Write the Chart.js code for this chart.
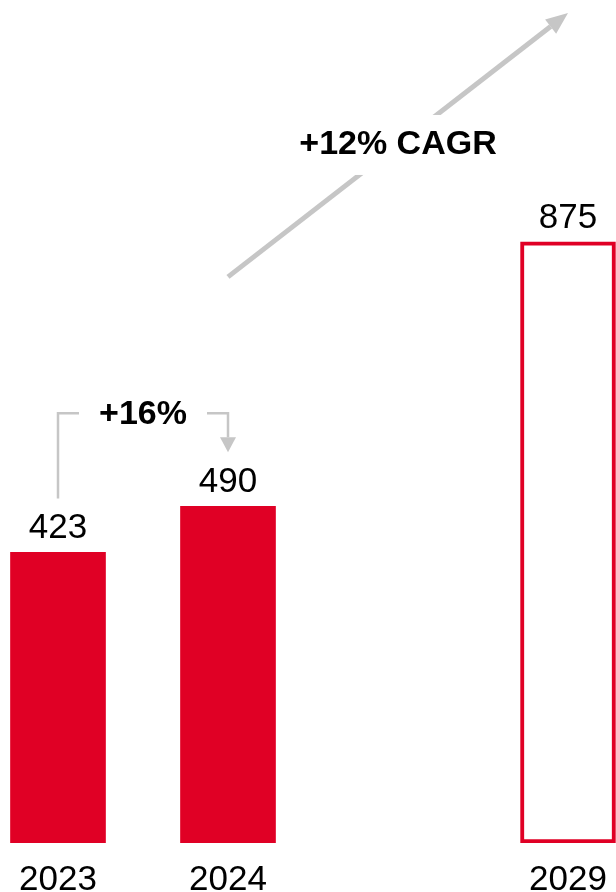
<!DOCTYPE html>
<html>
<head>
<meta charset="utf-8">
<script src="https://cdn.jsdelivr.net/npm/chart.js@4"></script>
<style>
  html, body { margin: 0; padding: 0; background: #fff; overflow: hidden; }
  #wrap { position: absolute; left: -27px; top: 0; width: 680px; height: 909px; }
</style>
</head>
<body>
<div id="wrap"><canvas id="chartMarket"></canvas></div>
<script>
// dados do grafico
const years = ['2023', '2024', '', '2029'];
const values = [423, 490, null, 875];
const forecast = [false, false, false, true];

const red = '#e00025';
const grey = '#c6c6c6';
const fontName = '"Liberation Sans", Arial, sans-serif';

// setas e textos de crescimento
const annotations = {
  id: 'annotations',
  afterDatasetsDraw(chart) {
    const ctx = chart.ctx;
    const y = chart.scales.y;
    const bars = chart.getDatasetMeta(0).data;

    ctx.save();

    // valores em cima das barras
    ctx.fillStyle = '#000';
    ctx.font = '35px ' + fontName;
    ctx.textAlign = 'center';
    ctx.textBaseline = 'alphabetic';
    bars.forEach((bar, i) => {
      if (values[i] == null) return;
      ctx.fillText(String(values[i]), bar.x, bar.y - 14);
    });

    // colchete +16%
    const b0 = bars[0], b1 = bars[1];
    const top = Math.min(b0.y, b1.y) - 93;
    ctx.strokeStyle = grey;
    ctx.fillStyle = grey;
    ctx.lineWidth = 2.5;
    ctx.beginPath();
    ctx.moveTo(b0.x, b0.y - 54);
    ctx.lineTo(b0.x, top);
    ctx.lineTo(b0.x + 21, top);
    ctx.moveTo(b1.x - 21, top);
    ctx.lineTo(b1.x, top);
    ctx.lineTo(b1.x, b1.y - 69);
    ctx.stroke();
    ctx.beginPath();
    ctx.moveTo(b1.x - 8, b1.y - 69);
    ctx.lineTo(b1.x + 8, b1.y - 69);
    ctx.lineTo(b1.x, b1.y - 54);
    ctx.closePath();
    ctx.fill();

    ctx.fillStyle = '#000';
    ctx.font = 'bold 34px ' + fontName;
    ctx.textBaseline = 'middle';
    ctx.fillText('+16%', (b0.x + b1.x) / 2, top + 1);

    // seta CAGR
    const x1 = b1.x, y1 = y.getPixelForValue(824);
    const x2 = bars[3].x, y2 = y.getPixelForValue(1208);
    const len = Math.hypot(x2 - x1, y2 - y1);
    const ux = (x2 - x1) / len, uy = (y2 - y1) / len;
    const head = 22, half = 9;
    const bx = x2 - ux * head, by = y2 - uy * head;

    ctx.strokeStyle = grey;
    ctx.fillStyle = grey;
    ctx.lineWidth = 5;
    ctx.beginPath();
    ctx.moveTo(x1, y1);
    ctx.lineTo(bx, by);
    ctx.stroke();
    ctx.beginPath();
    ctx.moveTo(x2, y2);
    ctx.lineTo(bx - uy * half, by + ux * half);
    ctx.lineTo(bx + uy * half, by - ux * half);
    ctx.closePath();
    ctx.fill();

    const mx = (x1 + x2) / 2, my = (y1 + y2) / 2;
    ctx.font = 'bold 34px ' + fontName;
    const tw = ctx.measureText('+12% CAGR').width;
    ctx.fillStyle = '#fff';
    ctx.fillRect(mx - tw / 2 - 6, my - 30, tw + 12, 60);
    ctx.fillStyle = '#000';
    ctx.fillText('+12% CAGR', mx, my);

    ctx.restore();
  }
};

const ctx1 = document.getElementById('chartMarket');

const data = {
  labels: years,
  datasets: [{
    data: values,
    backgroundColor: forecast.map(f => f ? '#fff' : red),
    borderColor: red,
    borderWidth: forecast.map(f => f ? 4 : 0),
    borderSkipped: false,
    barThickness: 95
  }]
};

const config = {
  type: 'bar',
  data: data,
  plugins: [annotations],
  options: {
    responsive: true,
    maintainAspectRatio: false,
    animation: false,
    layout: { padding: 0 },
    plugins: {
      legend: { display: false },
      tooltip: { enabled: false }
    },
    scales: {
      x: {
        grid: { display: false },
        border: { display: false },
        ticks: {
          color: '#000',
          padding: 8,
          font: { family: fontName, size: 35 }
        }
      },
      y: {
        display: false,
        min: 0,
        max: 1227
      }
    }
  }
};

new Chart(ctx1, config);
</script>
</body>
</html>
